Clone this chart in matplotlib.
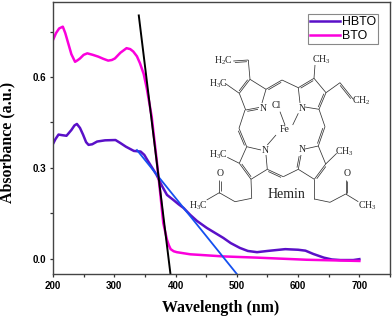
import matplotlib
matplotlib.use("Agg")
import matplotlib.pyplot as plt
import numpy as np
from matplotlib.collections import LineCollection
from matplotlib.ticker import MultipleLocator
from matplotlib.transforms import Affine2D

plt.rcParams["mathtext.default"] = "regular"

W, H = 392, 319

bto_x = [200, 205, 210, 216, 220, 225, 230, 236, 240, 244, 250, 256, 265, 274, 282, 290,
         296, 301, 310, 320, 326, 331, 337, 342, 348, 353, 361, 369, 375, 380, 386, 389,
         392, 397, 402, 424, 440, 478, 533, 614, 700]
bto_y = [0.722, 0.745, 0.760, 0.766, 0.745, 0.710, 0.675, 0.650, 0.655, 0.661, 0.673,
         0.678, 0.673, 0.667, 0.660, 0.654, 0.656, 0.661, 0.680, 0.695, 0.692, 0.684,
         0.668, 0.645, 0.610, 0.563, 0.470, 0.330, 0.217, 0.118, 0.063, 0.045, 0.032,
         0.025, 0.022, 0.015, 0.013, 0.008, 0.004, -0.003, -0.007]
hbto_x = [200, 204, 209, 215, 222, 230, 235, 239, 244, 249, 254, 258, 264, 272, 285, 302,
          310, 319, 332, 343, 349, 354, 362, 369, 378, 386, 396, 405, 413, 424, 435, 451,
          478, 490, 505, 518, 533, 550, 579, 600, 612, 625, 642, 655, 669, 690, 700]
hbto_y = [0.379, 0.395, 0.410, 0.408, 0.406, 0.425, 0.440, 0.445, 0.432, 0.410, 0.385,
          0.376, 0.378, 0.387, 0.391, 0.392, 0.382, 0.370, 0.356, 0.354, 0.343, 0.326,
          0.300, 0.277, 0.240, 0.211, 0.195, 0.180, 0.168, 0.145, 0.125, 0.102, 0.069,
          0.052, 0.036, 0.026, 0.022, 0.026, 0.032, 0.030, 0.027, 0.016, 0.004, -0.002,
          -0.004, -0.004, -0.001]
black_x = [340, 391.7]
black_y = [0.803, -0.05]
blue_x = [337, 500]
blue_y = [0.359, -0.05]

x_ticks = [200, 300, 400, 500, 600, 700]
y_ticks = [0.0, 0.3, 0.6]

# hemin sketch, reference pixel coordinates
single_bonds = [
    ((248.3, 60), (250, 79.3)), ((239.3, 93.3), (245.7, 110)), ((262, 103), (266, 89.3)),
    ((266, 89.3), (250, 79.3)), ((225, 83.3), (239.3, 93.3)), ((282, 80), (298.3, 87.7)),
    ((314, 78.3), (326, 92.7)), ((319, 109.3), (305, 107)), ((300, 103), (298.3, 87.7)),
    ((314, 78.3), (315, 65)), ((326, 92.7), (340, 82.7)), ((298.3, 113.3), (292.7, 125)),
    ((319, 109.3), (325, 126.7)), ((318.3, 146), (305, 149)), ((298.3, 169.3), (314.3, 179.3)),
    ((325.7, 164), (318.3, 146)), ((325.7, 164), (336.7, 153.3)), ((314.3, 179.3), (314.3, 199)),
    ((314.3, 199), (330, 202.3)), ((330, 202.3), (345.7, 194)), ((345.7, 194), (358.3, 201.7)),
    ((283.3, 176.7), (298.3, 169.3)), ((245, 110), (239, 128.3)), ((246.7, 146.7), (261, 150)),
    ((266, 155), (267.3, 169.3)), ((267.3, 169.3), (251, 179.3)), ((239.3, 163.3), (246.7, 146.7)),
    ((227.3, 157.3), (239.3, 163.3)), ((267.3, 145), (276, 135)), ((251, 179.3), (251.7, 198.3)),
    ((251.7, 198.3), (235, 201.7)), ((235, 201.7), (219.3, 192.7)), ((219.3, 192.7), (206.7, 200)),
    ((280, 111.7), (285, 125)),
]
double_bonds = [
    ((233.3, 61), (248.3, 60)), ((250, 79.3), (239.3, 93.3)), ((245.7, 110), (259, 107.5)),
    ((266, 89.3), (282, 80)), ((298.3, 87.7), (314, 78.3)), ((326, 92.7), (319, 109.3)),
    ((340, 82.7), (353.3, 99.3)), ((325, 126.7), (318.3, 146)), ((301, 155), (298.3, 169.3)),
    ((314.3, 179.3), (325.7, 164)), ((345.7, 194), (345.7, 180)), ((267.3, 169.3), (283.3, 176.7)),
    ((239, 128.3), (246.7, 146.7)), ((251, 179.3), (239.3, 163.3)), ((219.3, 192.7), (219.3, 180)),
]
atom_labels = [
    (223, 61, "H$_2$C"), (218, 84, "H$_3$C"), (263.3, 108.5, "N"), (276, 105.7, "Cl"),
    (285, 130, "Fe"), (321.7, 59.5, "CH$_3$"), (361.7, 101, "CH$_2$"), (302.3, 108.5, "N"),
    (265, 150.5, "N"), (301.7, 150, "N"), (218.3, 155, "H$_3$C"), (344.5, 152, "CH$_3$"),
    (220, 174, "O"), (346.7, 174, "O"), (198.5, 205.5, "H$_3$C"), (367, 205.5, "CH$_3$"),
]


def main() -> None:
    fig = plt.figure(figsize=(W / 100, H / 100), dpi=100)
    ax = fig.add_axes([53 / W, 1 - 274 / H, 337 / W, 272.5 / H])
    ax.set_xlim(200, 750)
    ax.set_ylim(-0.05, 0.849)

    ax.plot(hbto_x, hbto_y, color="#5a10c8", lw=1.8, label="HBTO", solid_joinstyle="round")
    ax.plot(bto_x, bto_y, color="#fb00dc", lw=1.8, label="BTO", solid_joinstyle="round")
    ax.plot(blue_x, blue_y, color="#1450f0", lw=1.3)
    ax.plot(black_x, black_y, color="black", lw=1.4)

    ax.set_xticks(x_ticks)
    ax.set_yticks(y_ticks)
    ax.xaxis.set_minor_locator(MultipleLocator(50))
    ax.yaxis.set_minor_locator(MultipleLocator(0.15))
    ax.set_yticklabels([f"{v:.1f}" for v in y_ticks])
    ax.tick_params(which="both", direction="out", length=2.5, width=0.9,
                   color="#333333", pad=2.5)
    for lab in ax.get_xticklabels() + ax.get_yticklabels():
        lab.set_family("Liberation Sans")
        lab.set_weight("bold")
        lab.set_size(7)
    for spine in ax.spines.values():
        spine.set_color("#444444")
        spine.set_linewidth(1.0)

    leg = ax.legend(loc="upper left", bbox_to_anchor=(308 / W, 1 - 14 / H),
                    bbox_transform=fig.transFigure, fancybox=False, framealpha=1,
                    edgecolor="#888888", borderaxespad=0, borderpad=0.15,
                    handlelength=2.4, handletextpad=0.2, labelspacing=0.2,
                    prop={"family": "Liberation Sans", "size": 8.9})
    leg.get_frame().set_linewidth(0.8)

    px = Affine2D().scale(1 / W, -1 / H).translate(0, 1) + fig.transFigure
    segs = list(single_bonds)
    for a, b in double_bonds:
        a, b = np.array(a), np.array(b)
        d = b - a
        n = np.array([-d[1], d[0]]) / np.hypot(*d) * 1.6
        segs.append((tuple(a), tuple(b)))
        segs.append((tuple(a + n + d * 0.1), tuple(b + n - d * 0.1)))
    fig.add_artist(LineCollection(segs, colors="#333333", linewidths=0.55, transform=px))
    for x, y, s in atom_labels:
        fig.text(x, y, s, transform=px, ha="center", va="center",
                 family="Liberation Serif", size=7, color="#222222")
    fig.text(286.7, 195, "Hemin", transform=px, ha="center", va="center",
             family="Liberation Serif", size=10, color="#222222")

    fig.text(221, 308, "Wavelength (nm)", transform=px, ha="center", va="center",
             family="Liberation Serif", weight="bold", size=11.4)
    fig.text(7.5, 142, "Absorbance (a.u.)", transform=px, ha="center", va="center",
             rotation=90, family="Liberation Serif", weight="bold", size=11.4)

    fig.savefig("out.png", dpi=100)
    plt.close(fig)


if __name__ == "__main__":
    main()
